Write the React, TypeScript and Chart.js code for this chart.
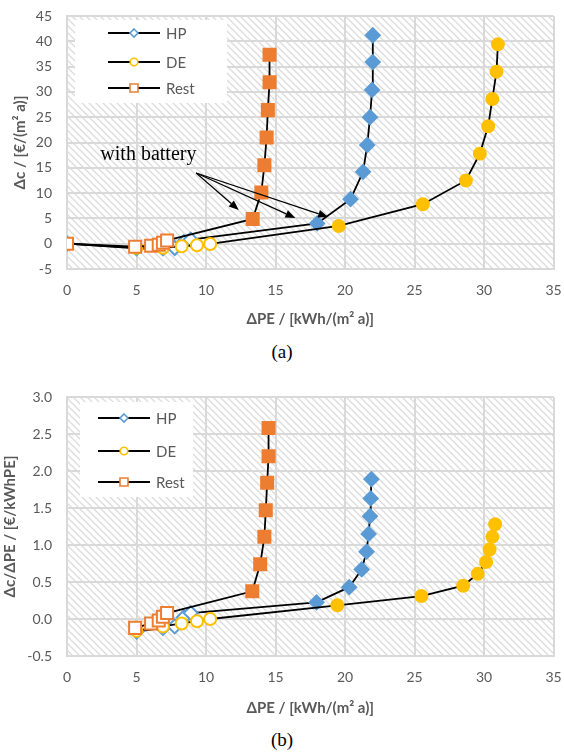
import React, { useEffect, useRef } from "react";
import { Chart, registerables } from "chart.js";

Chart.register(...registerables);

// ---------- data: chart (a) ----------
const hpX_a = [0, 5.0, 6.9, 7.75, 8.4, 8.9, 18.0, 20.4, 21.3, 21.6, 21.8, 21.95, 22.0, 22.0];
const hpY_a = [0, -0.9, -0.9, -0.85, 0.3, 0.8, 4.0, 8.8, 14.2, 19.5, 25.0, 30.4, 35.9, 41.2];
const hpBat_a = [0, 0, 0, 0, 0, 0, 1, 1, 1, 1, 1, 1, 1, 1];

const deX_a = [0, 5.0, 6.9, 8.25, 9.35, 10.3, 19.55, 25.6, 28.7, 29.7, 30.3, 30.6, 30.9, 31.0];
const deY_a = [0, -0.8, -0.8, -0.5, -0.3, -0.05, 3.5, 7.8, 12.5, 17.8, 23.2, 28.6, 34.0, 39.4];
const deBat_a = [0, 0, 0, 0, 0, 0, 1, 1, 1, 1, 1, 1, 1, 1];

const reX_a = [0, 4.9, 6.05, 6.6, 6.9, 7.2, 13.36, 13.98, 14.2, 14.36, 14.45, 14.57, 14.57];
const reY_a = [0, -0.6, -0.4, -0.2, 0.2, 0.65, 4.9, 10.1, 15.5, 21.0, 26.4, 31.9, 37.35];
const reBat_a = [0, 0, 0, 0, 0, 0, 1, 1, 1, 1, 1, 1, 1];

// ---------- data: chart (b) ----------
const hpX_b = [5.0, 6.9, 7.75, 8.4, 8.9, 17.95, 20.3, 21.2, 21.55, 21.7, 21.8, 21.85, 21.9];
const hpY_b = [-0.17, -0.12, -0.1, 0.02, 0.08, 0.225, 0.43, 0.67, 0.91, 1.15, 1.39, 1.63, 1.89];
const hpBat_b = [0, 0, 0, 0, 0, 1, 1, 1, 1, 1, 1, 1, 1];

const deX_b = [5.0, 6.9, 8.25, 9.35, 10.3, 19.45, 25.5, 28.5, 29.55, 30.15, 30.4, 30.6, 30.8];
const deY_b = [-0.16, -0.1, -0.06, -0.03, 0.0, 0.185, 0.31, 0.45, 0.61, 0.77, 0.94, 1.11, 1.28];
const deBat_b = [0, 0, 0, 0, 0, 1, 1, 1, 1, 1, 1, 1, 1];

const reX_b = [4.9, 6.05, 6.6, 6.9, 7.2, 13.33, 13.9, 14.2, 14.3, 14.4, 14.5, 14.5];
const reY_b = [-0.12, -0.06, -0.02, 0.03, 0.08, 0.374, 0.74, 1.11, 1.47, 1.84, 2.2, 2.58];
const reBat_b = [0, 0, 0, 0, 0, 1, 1, 1, 1, 1, 1, 1];

const seriesNames = ["HP", "DE", "Rest"];
const xTitle = "ΔPE / [kWh/(m² a)]";
const yTitleA = "Δc / [€/(m² a)]";
const yTitleB = "Δc/ΔPE / [€/kWhPE]";
const annotationText = "with battery";
const annotationLabelPos = { x: 2.4, y: 17.5 };
const arrowStart = { x: 9.29, y: 13.97 };
const arrowTips = [
  { x: 12.36, y: 6.66 },
  { x: 16.43, y: 5.08 },
  { x: 18.79, y: 5.28 },
];

const COLORS = { HP: "#5B9BD5", DE: "#FFC000", Rest: "#ED7D31" };
const GRID = "#d9d9d9";
const TXT = "#595959";
const FONT = "Lato";

function makeHatch(): CanvasPattern | string {
  const c = document.createElement("canvas");
  c.width = 7;
  c.height = 7;
  const g = c.getContext("2d");
  if (!g) return "#fff";
  g.fillStyle = "#ffffff";
  g.fillRect(0, 0, 7, 7);
  g.strokeStyle = "#dcdcdc";
  g.lineWidth = 1.3;
  g.beginPath();
  g.moveTo(-2, -2);
  g.lineTo(9, 9);
  g.moveTo(-2, 5);
  g.lineTo(2, 9);
  g.moveTo(5, -2);
  g.lineTo(9, 2);
  g.stroke();
  return g.createPattern(c, "repeat") || "#fff";
}

function pts(xs: number[], ys: number[]) {
  return xs.map((x, i) => ({ x, y: ys[i] }));
}

function ds(name: string, xs: number[], ys: number[], bat: number[], style: string, radius: number, order: number) {
  const col = (COLORS as any)[name];
  return {
    label: name,
    data: pts(xs, ys),
    borderColor: "#000000",
    borderWidth: 1.8,
    showLine: true,
    pointStyle: style,
    pointRadius: radius,
    pointHoverRadius: radius,
    pointBorderWidth: 2,
    pointBorderColor: col,
    pointBackgroundColor: bat.map((b) => (b ? col : "#ffffff")),
    order,
    tension: 0,
  };
}

function drawMarker(ctx: CanvasRenderingContext2D, style: string, x: number, y: number, col: string) {
  ctx.save();
  ctx.fillStyle = "#ffffff";
  ctx.strokeStyle = col;
  ctx.lineWidth = 1.6;
  ctx.beginPath();
  if (style === "rectRot") {
    const r = 4;
    ctx.moveTo(x, y - r);
    ctx.lineTo(x + r, y);
    ctx.lineTo(x, y + r);
    ctx.lineTo(x - r, y);
    ctx.closePath();
  } else if (style === "circle") {
    ctx.arc(x, y, 3.8, 0, Math.PI * 2);
  } else {
    ctx.rect(x - 4, y - 4, 8, 8);
  }
  ctx.fill();
  ctx.stroke();
  ctx.restore();
}

function legendPlugin(cfg: { dx: number; dy: number; w: number; h: number; rows: number[]; l0: number; l1: number; tx: number }) {
  return {
    id: "customLegend",
    afterDatasetsDraw(chart: any) {
      const { ctx, chartArea: a } = chart;
      const bx = a.left + cfg.dx;
      const by = a.top + cfg.dy;
      ctx.save();
      ctx.fillStyle = "#ffffff";
      ctx.fillRect(bx, by, cfg.w, cfg.h);
      const styles = ["rectRot", "circle", "rect"];
      seriesNames.forEach((n, i) => {
        const y = by + cfg.rows[i];
        ctx.strokeStyle = "#000";
        ctx.lineWidth = 1.8;
        ctx.beginPath();
        ctx.moveTo(bx + cfg.l0, y);
        ctx.lineTo(bx + cfg.l1, y);
        ctx.stroke();
        drawMarker(ctx, styles[i], bx + (cfg.l0 + cfg.l1) / 2, y, (COLORS as any)[n]);
        ctx.fillStyle = TXT;
        ctx.font = `15px ${FONT}`;
        ctx.textAlign = "left";
        ctx.textBaseline = "middle";
        ctx.fillText(n, bx + cfg.tx, y + 1);
      });
      ctx.restore();
    },
  };
}

const arrowPlugin = {
  id: "arrows",
  afterDatasetsDraw(chart: any) {
    const { ctx } = chart;
    const xs = chart.scales.x;
    const ys = chart.scales.y;
    const sx = xs.getPixelForValue(arrowStart.x);
    const sy = ys.getPixelForValue(arrowStart.y);
    ctx.save();
    ctx.strokeStyle = "#000";
    ctx.fillStyle = "#000";
    ctx.lineWidth = 1.2;
    arrowTips.forEach((t) => {
      const tx = xs.getPixelForValue(t.x);
      const ty = ys.getPixelForValue(t.y);
      const ang = Math.atan2(ty - sy, tx - sx);
      const L = 10;
      const W = 4;
      const bx = tx - L * Math.cos(ang);
      const by = ty - L * Math.sin(ang);
      ctx.beginPath();
      ctx.moveTo(sx, sy);
      ctx.lineTo(bx, by);
      ctx.stroke();
      ctx.beginPath();
      ctx.moveTo(tx, ty);
      ctx.lineTo(bx + W * Math.sin(ang), by - W * Math.cos(ang));
      ctx.lineTo(bx - W * Math.sin(ang), by + W * Math.cos(ang));
      ctx.closePath();
      ctx.fill();
    });
    ctx.font = `20px "Liberation Serif"`;
    ctx.textAlign = "left";
    ctx.textBaseline = "middle";
    ctx.fillText(
      annotationText,
      xs.getPixelForValue(annotationLabelPos.x),
      ys.getPixelForValue(annotationLabelPos.y)
    );
    ctx.restore();
  },
};

function makeConfig(opts: {
  datasets: any[];
  yMin: number;
  yMax: number;
  yStep: number;
  yTitle: string;
  yTitlePad: number;
  xAxisH: number;
  xTitlePadB: number;
  padding: any;
  decimals: number;
  plugins: any[];
  hatch: any;
}) {
  const bg = {
    id: "hatchBg",
    beforeDraw(chart: any) {
      const { ctx, chartArea: a } = chart;
      ctx.save();
      ctx.fillStyle = opts.hatch;
      ctx.fillRect(a.left, a.top, a.right - a.left, a.bottom - a.top);
      ctx.restore();
    },
  };
  return {
    type: "scatter" as const,
    data: { datasets: opts.datasets },
    options: {
      animation: false as const,
      responsive: false,
      maintainAspectRatio: false,
      layout: { padding: opts.padding },
      plugins: { legend: { display: false }, tooltip: { enabled: false } },
      scales: {
        x: {
          type: "linear",
          min: 0,
          max: 35,
          ticks: { stepSize: 5, padding: 13, color: TXT, font: { family: FONT, size: 14 } },
          grid: { color: GRID, lineWidth: 2, drawTicks: false },
          border: { color: GRID, width: 2 },
          title: {
            display: true,
            text: xTitle,
            color: TXT,
            font: { family: FONT, size: 15, weight: "bold" },
            padding: { top: 0, bottom: opts.xTitlePadB },
          },
          afterFit(s: any) {
            s.height = opts.xAxisH;
            s.paddingLeft = 0;
            s.paddingRight = 0;
          },
        },
        y: {
          type: "linear",
          min: opts.yMin,
          max: opts.yMax,
          ticks: {
            stepSize: opts.yStep,
            padding: 15,
            color: TXT,
            font: { family: FONT, size: 14 },
            callback: (v: any) => Number(v).toFixed(opts.decimals),
          },
          grid: { color: GRID, lineWidth: 2, drawTicks: false },
          border: { color: GRID, width: 2 },
          title: {
            display: true,
            text: opts.yTitle,
            color: TXT,
            font: { family: FONT, size: 15, weight: "bold" },
            padding: { top: opts.yTitlePad, bottom: 0 },
          },
          afterFit(s: any) {
            s.width = 67;
            s.paddingTop = 0;
            s.paddingBottom = 0;
          },
        },
      },
    },
    plugins: [bg, ...opts.plugins],
  };
}

export default function App() {
  const ref1 = useRef<HTMLCanvasElement>(null);
  const ref2 = useRef<HTMLCanvasElement>(null);

  useEffect(() => {
    const hatch = makeHatch();
    const c1 = new Chart(
      ref1.current as HTMLCanvasElement,
      makeConfig({
        datasets: [
          ds("HP", hpX_a, hpY_a, hpBat_a, "rectRot", 7, 3),
          ds("DE", deX_a, deY_a, deBat_a, "circle", 6, 2),
          ds("Rest", reX_a, reY_a, reBat_a, "rect", 8.5, 1),
        ],
        yMin: -5,
        yMax: 45,
        yStep: 5,
        yTitle: yTitleA,
        yTitlePad: 11,
        xAxisH: 61,
        xTitlePadB: 2,
        padding: { left: 0, top: 16, right: 6, bottom: 0 },
        decimals: 0,
        hatch,
        plugins: [
          legendPlugin({ dx: 8, dy: 4, w: 152, h: 83, rows: [13, 42, 68], l0: 33, l1: 85, tx: 91 }),
          arrowPlugin,
        ],
      }) as any
    );
    const c2 = new Chart(
      ref2.current as HTMLCanvasElement,
      makeConfig({
        datasets: [
          ds("HP", hpX_b, hpY_b, hpBat_b, "rectRot", 7, 3),
          ds("DE", deX_b, deY_b, deBat_b, "circle", 6, 2),
          ds("Rest", reX_b, reY_b, reBat_b, "rect", 8.5, 1),
        ],
        yMin: -0.5,
        yMax: 3.0,
        yStep: 0.5,
        yTitle: yTitleB,
        yTitlePad: 1,
        xAxisH: 64,
        xTitlePadB: 3,
        padding: { left: 0, top: 17, right: 10, bottom: 0 },
        decimals: 1,
        hatch,
        plugins: [legendPlugin({ dx: 13, dy: 5, w: 113, h: 95, rows: [16, 49, 80], l0: 18, l1: 70, tx: 76 })],
      }) as any
    );
    return () => {
      c1.destroy();
      c2.destroy();
    };
  }, []);

  const capStyle: React.CSSProperties = {
    position: "absolute",
    left: 0,
    width: 564,
    height: 24,
    lineHeight: "24px",
    textAlign: "center",
    fontFamily: '"Liberation Serif", serif',
    fontSize: 19,
    color: "#000",
  };

  return (
    <div style={{ position: "absolute", left: 0, top: 0, width: 564, height: 752, background: "#ffffff" }}>
      <canvas ref={ref1} width={564} height={330} style={{ position: "absolute", left: 0, top: 0, display: "block" }} />
      <div style={{ ...capStyle, top: 340 }}>(a)</div>
      <canvas ref={ref2} width={564} height={340} style={{ position: "absolute", left: 0, top: 380, display: "block" }} />
      <div style={{ ...capStyle, top: 728 }}>(b)</div>
    </div>
  );
}
